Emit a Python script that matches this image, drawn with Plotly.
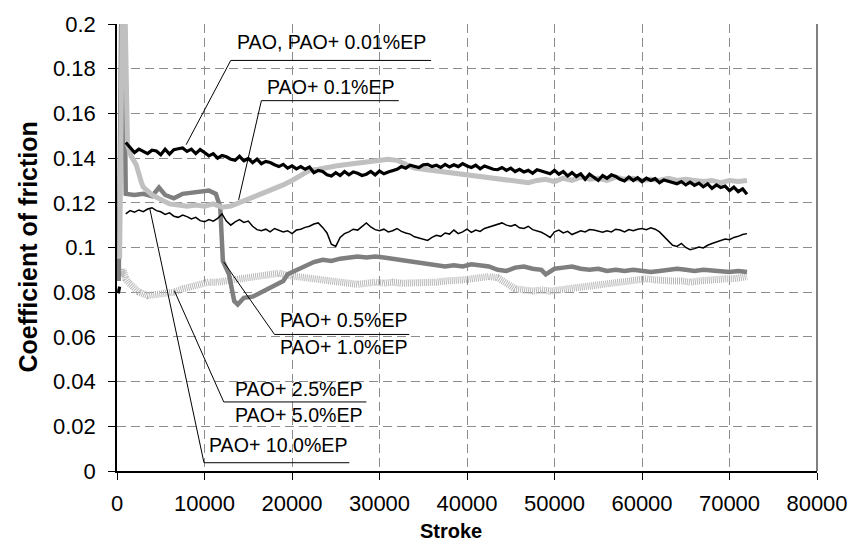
import plotly.graph_objects as go

# ---- data: coefficient of friction vs. stroke for PAO with EP additive ----
# sampling grid for the densely logged runs (every 500 strokes)
stroke_grid = list(range(1000, 72001, 500))

# PAO / PAO + 0.01 % EP  (short run-in trace, then the logged run)
pao_runin_stroke = [150, 300]
pao_runin_cof = [0.0795, 0.0825]
pao_cof = [
    0.1470, 0.1445, 0.1425, 0.1440, 0.1428, 0.1420, 0.1435, 0.1432, 0.1415, 0.1440,
    0.1418, 0.1438, 0.1442, 0.1445, 0.1430, 0.1440, 0.1420, 0.1438, 0.1425, 0.1410,
    0.1420, 0.1400, 0.1412, 0.1406, 0.1395, 0.1390, 0.1408, 0.1388, 0.1398, 0.1380,
    0.1395, 0.1375, 0.1385, 0.1380, 0.1370, 0.1362, 0.1372, 0.1355, 0.1365, 0.1352,
    0.1362, 0.1350, 0.1360, 0.1335, 0.1345, 0.1340, 0.1325, 0.1320, 0.1335, 0.1322,
    0.1340, 0.1325, 0.1338, 0.1332, 0.1322, 0.1328, 0.1340, 0.1325, 0.1342, 0.1330,
    0.1338, 0.1345, 0.1350, 0.1362, 0.1355, 0.1368, 0.1364, 0.1358, 0.1370, 0.1372,
    0.1362, 0.1368, 0.1358, 0.1372, 0.1360, 0.1370, 0.1362, 0.1375, 0.1365, 0.1358,
    0.1368, 0.1352, 0.1365, 0.1358, 0.1350, 0.1348, 0.1358, 0.1345, 0.1355, 0.1340,
    0.1350, 0.1338, 0.1345, 0.1332, 0.1348, 0.1342, 0.1335, 0.1330, 0.1345, 0.1328,
    0.1340, 0.1320, 0.1335, 0.1318, 0.1330, 0.1305, 0.1328, 0.1315, 0.1300, 0.1322,
    0.1310, 0.1325, 0.1318, 0.1305, 0.1298, 0.1315, 0.1300, 0.1312, 0.1295, 0.1310,
    0.1300, 0.1308, 0.1290, 0.1302, 0.1296, 0.1288, 0.1285, 0.1295, 0.1280, 0.1292,
    0.1278, 0.1288, 0.1272, 0.1285, 0.1265, 0.1280, 0.1268, 0.1275, 0.1255, 0.1270,
    0.1250, 0.1262, 0.1238,
]

# PAO + 10.0 % EP
ep10_cof = [
    0.1150, 0.1165, 0.1158, 0.1168, 0.1160, 0.1172, 0.1178, 0.1165, 0.1160, 0.1148,
    0.1155, 0.1140, 0.1135, 0.1145, 0.1138, 0.1128, 0.1135, 0.1120, 0.1115, 0.1125,
    0.1118, 0.1130, 0.1150, 0.1118, 0.1100, 0.1115, 0.1125, 0.1112, 0.1118, 0.1095,
    0.1080, 0.1075, 0.1082, 0.1070, 0.1085, 0.1078, 0.1070, 0.1075, 0.1062, 0.1078,
    0.1082, 0.1090, 0.1095, 0.1105, 0.1110, 0.1090, 0.1065, 0.1015, 0.1005, 0.1045,
    0.1062, 0.1070, 0.1082, 0.1078, 0.1095, 0.1110, 0.1092, 0.1080, 0.1075, 0.1082,
    0.1070, 0.1075, 0.1085, 0.1072, 0.1065, 0.1060, 0.1048, 0.1042, 0.1038, 0.1032,
    0.1045, 0.1055, 0.1050, 0.1065, 0.1060, 0.1078, 0.1062, 0.1070, 0.1082, 0.1068,
    0.1078, 0.1072, 0.1085, 0.1092, 0.1098, 0.1105, 0.1110, 0.1100, 0.1095, 0.1102,
    0.1088, 0.1085, 0.1095, 0.1080, 0.1075, 0.1068, 0.1058, 0.1045, 0.1070, 0.1078,
    0.1065, 0.1072, 0.1058, 0.1065, 0.1075, 0.1070, 0.1080, 0.1078, 0.1072, 0.1068,
    0.1075, 0.1070, 0.1082, 0.1078, 0.1070, 0.1080, 0.1075, 0.1082, 0.1085, 0.1080,
    0.1088, 0.1082, 0.1070, 0.1050, 0.1030, 0.1010, 0.1005, 0.1018, 0.1000, 0.0990,
    0.0995, 0.1002, 0.0998, 0.1010, 0.1018, 0.1025, 0.1030, 0.1038, 0.1035, 0.1045,
    0.1050, 0.1058, 0.1062,
]

# PAO + 0.1 % EP
ep01_stroke = [300, 600, 900, 1200, 1600, 2200, 2800, 3000, 4000, 5000, 6000, 7000, 8000, 9000,
               10000, 11000, 12000, 13000, 14000, 15000, 16000, 17000, 18000, 19000, 20000,
               21000, 22000, 23000, 24000, 25000, 26000, 27000, 28000, 29000, 30000, 31000,
               32000, 33000, 34000, 35000, 36000, 37000, 38000, 39000, 40000, 41000, 42000,
               43000, 44000, 45000, 46000, 47000, 48000, 49000, 50000, 51000, 52000, 53000,
               54000, 55000, 56000, 57000, 58000, 59000, 60000, 61000, 62000, 63000, 64000,
               65000, 66000, 67000, 68000, 69000, 70000, 71000, 72000]
ep01_cof = [0.095, 0.205, 0.210, 0.146, 0.141, 0.137, 0.129, 0.1270, 0.1235, 0.1215, 0.1195,
            0.1190, 0.1185, 0.1190, 0.1185, 0.1195, 0.1180, 0.1185, 0.1200, 0.1215, 0.1235,
            0.1250, 0.1265, 0.1280, 0.1300, 0.1320, 0.1345, 0.1350, 0.1360, 0.1365, 0.1370,
            0.1375, 0.1375, 0.1380, 0.1385, 0.1395, 0.1390, 0.1375, 0.1355, 0.1350, 0.1345,
            0.1340, 0.1335, 0.1330, 0.1325, 0.1320, 0.1315, 0.1310, 0.1305, 0.1300, 0.1295,
            0.1290, 0.1300, 0.1305, 0.1295, 0.1310, 0.1300, 0.1315, 0.1305, 0.1310, 0.1300,
            0.1315, 0.1305, 0.1310, 0.1300, 0.1305, 0.1300, 0.1310, 0.1300, 0.1305, 0.1300,
            0.1295, 0.1300, 0.1290, 0.1300, 0.1295, 0.1300]

# PAO + 0.5 % / 1.0 % EP
ep05_stroke = [200, 500, 800, 1000, 2000, 3000, 4000, 4800, 5500, 6500, 7500, 8500, 9500,
               10500, 11300, 11800, 12100, 12800, 13400, 13800, 14500, 15500, 16500, 17500,
               18500, 19000, 19500, 20500, 21500, 22500, 23500, 24500, 25500, 26500, 27500,
               28500, 29500, 30500, 31500, 32500, 33500, 34500, 35500, 36500, 37500, 38500,
               39500, 40500, 41500, 42500, 43500, 44500, 45500, 46500, 47500, 48500, 49000,
               50000, 51000, 52000, 53000, 54000, 55000, 56000, 57000, 58000, 59000, 60000,
               61000, 62000, 63000, 64000, 65000, 66000, 67000, 68000, 69000, 70000, 71000,
               72000]
ep05_cof = [0.085, 0.210, 0.200, 0.124, 0.1235, 0.1240, 0.1230, 0.1268, 0.1235, 0.1220, 0.1240,
            0.1245, 0.1250, 0.1255, 0.1240, 0.1180, 0.0940, 0.0880, 0.0760, 0.0745, 0.0775,
            0.0780, 0.0800, 0.0820, 0.0840, 0.0850, 0.0880, 0.0900, 0.0920, 0.0935, 0.0945,
            0.0940, 0.0950, 0.0955, 0.0960, 0.0955, 0.0960, 0.0955, 0.0950, 0.0945, 0.0940,
            0.0935, 0.0930, 0.0920, 0.0915, 0.0920, 0.0915, 0.0925, 0.0920, 0.0915, 0.0900,
            0.0895, 0.0910, 0.0915, 0.0905, 0.0900, 0.0880, 0.0905, 0.0910, 0.0915, 0.0905,
            0.0900, 0.0905, 0.0895, 0.0900, 0.0895, 0.0900, 0.0895, 0.0890, 0.0895, 0.0900,
            0.0905, 0.0900, 0.0895, 0.0900, 0.0895, 0.0895, 0.0890, 0.0895, 0.0890]

# PAO + 2.5 % / 5.0 % EP
ep25_stroke = [0, 400, 700, 1000, 1400, 2000, 2500, 3500, 4500, 5500, 6500, 7500, 8500, 9500,
               10500, 11500, 12500, 13500, 14500, 15500, 16500, 17500, 18500, 19500, 20500,
               21500, 22500, 23500, 24500, 25500, 26500, 27500, 28500, 29500, 30500, 31500,
               32500, 33500, 34500, 35500, 36500, 37500, 38500, 39500, 40500, 41500, 42500,
               43500, 44500, 45500, 46500, 47500, 48500, 49500, 50500, 51500, 52500, 53500,
               54500, 55500, 56500, 57500, 58500, 59500, 60500, 61500, 62500, 63500, 64500,
               65500, 66500, 67500, 68500, 69500, 70500, 71500, 72000]
ep25_cof = [0.090, 0.087, 0.090, 0.086, 0.084, 0.0815, 0.0800, 0.0785, 0.0790, 0.0795, 0.0800,
            0.0815, 0.0825, 0.0835, 0.0845, 0.0845, 0.0850, 0.0855, 0.0860, 0.0865, 0.0870,
            0.0875, 0.0885, 0.0875, 0.0870, 0.0865, 0.0860, 0.0855, 0.0850, 0.0845, 0.0840,
            0.0835, 0.0840, 0.0845, 0.0840, 0.0845, 0.0840, 0.0840, 0.0845, 0.0840, 0.0845,
            0.0850, 0.0850, 0.0855, 0.0860, 0.0865, 0.0870, 0.0865, 0.0840, 0.0815, 0.0810,
            0.0805, 0.0810, 0.0805, 0.0810, 0.0815, 0.0820, 0.0825, 0.0830, 0.0835, 0.0840,
            0.0850, 0.0855, 0.0860, 0.0860, 0.0855, 0.0850, 0.0850, 0.0850, 0.0845, 0.0850,
            0.0855, 0.0855, 0.0860, 0.0860, 0.0865, 0.0870]

x_tick_vals = [0, 10000, 20000, 30000, 40000, 50000, 60000, 70000, 80000]
x_tick_text = ["0", "10000", "20000", "30000", "40000", "50000", "60000", "70000", "80000"]
y_tick_vals = [0, 0.02, 0.04, 0.06, 0.08, 0.1, 0.12, 0.14, 0.16, 0.18, 0.2]
y_tick_text = ["0", "0.02", "0.04", "0.06", "0.08", "0.1", "0.12", "0.14", "0.16", "0.18", "0.2"]

# callout labels: text lines, leader (point on curve -> elbow -> end of underline)
callout_text = [
    ["PAO, PAO+ 0.01%EP"],
    ["PAO+ 0.1%EP"],
    ["PAO+ 0.5%EP", "PAO+ 1.0%EP"],
    ["PAO+ 2.5%EP", "PAO+ 5.0%EP"],
    ["PAO+ 10.0%EP"],
]
callout_x = [
    [7900, 13000, 35900],
    [13900, 16500, 32200],
    [12200, 18000, 33400],
    [6550, 12200, 28500],
    [3730, 9940, 26550],
]
callout_y = [
    [0.146, 0.1837, 0.1837],
    [0.1213, 0.1657, 0.1657],
    [0.0935, 0.0611, 0.0611],
    [0.0807, 0.0309, 0.0309],
    [0.1177, 0.0037, 0.0037],
]
# text placement along each underline (centre stroke, upward shift in px)
callout_text_x = [24500, 24500, 25900, 20850, 18400]
callout_text_shift = [5, 1, 1, 0, 5]

FONT = "Liberation Sans, Arial, sans-serif"
LABEL_SIZE = 19.6

fig = go.Figure()

pao_stroke_all = pao_runin_stroke + [None] + stroke_grid
pao_cof_all = pao_runin_cof + [None] + pao_cof

# draw order: light hatched band first, dark lines on top
series = [
    (ep25_stroke, ep25_cof, dict(color="#b6b6b6", width=7, dash="1px,1px")),
    (ep05_stroke, ep05_cof, dict(color="#7f7f7f", width=4.5)),
    (stroke_grid, ep10_cof, dict(color="#000000", width=1.5)),
    (ep01_stroke, ep01_cof, dict(color="#c0c0c0", width=5)),
    (pao_stroke_all, pao_cof_all, dict(color="#000000", width=3.2)),
]
for xs, ys, ln in series:
    fig.add_trace(go.Scatter(x=xs, y=ys, mode="lines", line=ln, connectgaps=False,
                             showlegend=False, hoverinfo="skip"))

for lines, lx, ly, tx, sh in zip(callout_text, callout_x, callout_y,
                                  callout_text_x, callout_text_shift):
    fig.add_trace(go.Scatter(x=lx, y=ly, mode="lines",
                             line=dict(color="#000000", width=1),
                             showlegend=False, hoverinfo="skip"))
    fig.add_annotation(x=tx, y=ly[2], text=lines[0], showarrow=False,
                       xanchor="center", yanchor="bottom", yshift=sh,
                       font=dict(family=FONT, size=LABEL_SIZE, color="#000000"))
    if len(lines) > 1:
        fig.add_annotation(x=tx, y=ly[2], text=lines[1], showarrow=False,
                           xanchor="center", yanchor="top", yshift=0,
                           font=dict(family=FONT, size=LABEL_SIZE, color="#000000"))

axis_common = dict(
    showline=True, linecolor="#000000", linewidth=1.5,
    ticks="outside", ticklen=7, tickcolor="#000000", tickwidth=1,
    showgrid=True, gridcolor="#8c8c8c", gridwidth=1, griddash="9px,5px",
    zeroline=False, tickfont=dict(family=FONT, size=22, color="#000000"),
)

fig.update_xaxes(range=[0, 80000], tickvals=x_tick_vals, ticktext=x_tick_text,
                 ticklabelstandoff=5, **axis_common)
fig.update_yaxes(range=[0, 0.2], tickvals=y_tick_vals, ticktext=y_tick_text,
                 ticklabelstandoff=8, **axis_common)

# right frame edge of the plot area
fig.add_shape(type="line", xref="paper", yref="paper", x0=1, x1=1, y0=0, y1=1,
              line=dict(color="#555555", width=1.5))

fig.add_annotation(xref="paper", yref="paper", x=-0.1285, y=0.5,
                   text="<b>Coefficient of friction</b>",
                   textangle=-90, showarrow=False, xanchor="center", yanchor="middle",
                   font=dict(family=FONT, size=25, color="#000000"))
fig.add_annotation(xref="paper", yref="paper", x=0.477, y=-0.134, text="<b>Stroke</b>",
                   showarrow=False, xanchor="center", yanchor="middle",
                   font=dict(family=FONT, size=20, color="#000000"))

fig.update_layout(
    width=860, height=548,
    margin=dict(l=117, r=35, t=16, b=77),
    paper_bgcolor="#ffffff", plot_bgcolor="#ffffff",
    showlegend=False,
)

fig.write_html("out.html")
